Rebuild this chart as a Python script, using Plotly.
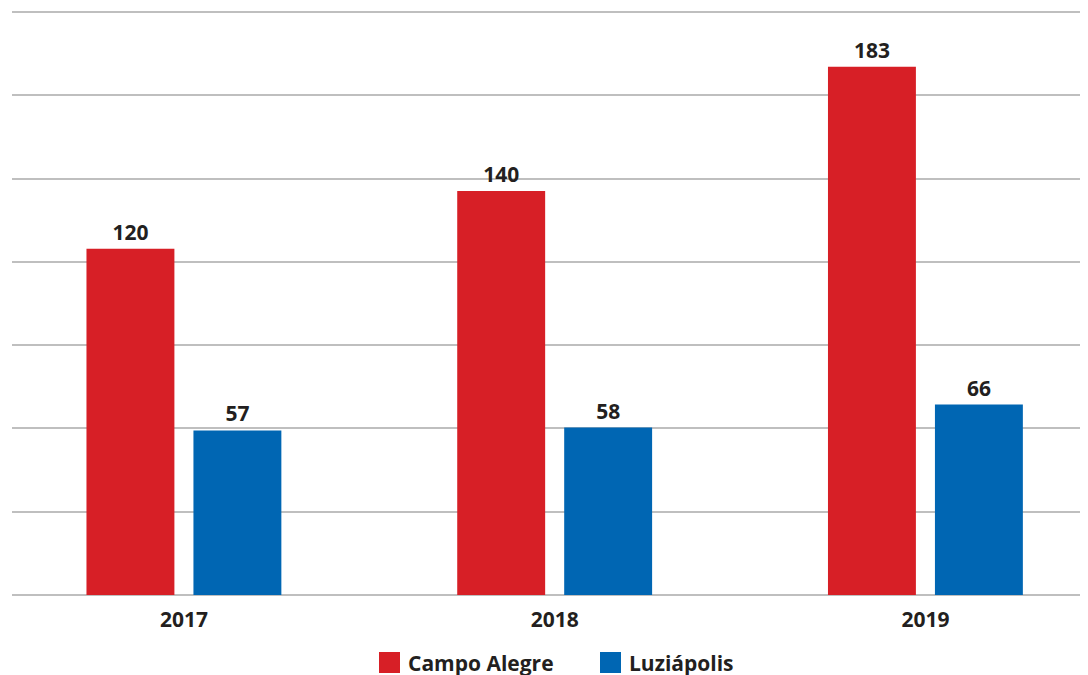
import plotly.graph_objects as go

years = ["2017", "2018", "2019"]
campo_alegre = [120, 140, 183]
luziapolis = [57, 58, 66]
series_names = ["Campo Alegre", "Luziápolis"]
colors = ["#D71F26", "#0066B3"]

TXT = "#231F20"
FONT = "Open Sans"

# page body adds an 8px offset; figure coordinates are viewport - 8
W, H = 1088, 672
L, T = 4, 2
PLOT_BOTTOM = 587
B = H - PLOT_BOTTOM
PW = W - L
PH = H - T - B
Y_MAX = 202 * PH / 583  # keeps top gridline just inside the plot area
CAT_PX = 370.75          # pixels per category step
X0 = -0.4637
X1 = X0 + PW / CAT_PX

fig = go.Figure()
for name, vals, col in zip(series_names, [campo_alegre, luziapolis], colors):
    fig.add_trace(go.Bar(
        x=years, y=vals, name=name, marker=dict(color=col, line=dict(width=0)),
        text=vals, textposition="outside", cliponaxis=False,
        textfont=dict(family=FONT, size=21, color=TXT, weight=700),
        showlegend=False,
    ))

# legend built from series names/colors (paper coordinates)
def px_x(v):
    return (v - 8 - L) / PW

def px_y(v):
    return (PLOT_BOTTOM - (v - 8)) / PH

leg_x = [px_x(379), px_x(600)]
leg_w = 21 / PW
y_top = px_y(652)
y_bot = px_y(673)
for name, col, lx in zip(series_names, colors, leg_x):
    fig.add_shape(type="rect", xref="paper", yref="paper", x0=lx, x1=lx + leg_w,
                  y0=y_bot, y1=y_top, fillcolor=col, line=dict(width=0))
    fig.add_annotation(xref="paper", yref="paper", x=lx + leg_w + 6 / PW,
                       y=(y_top + y_bot) / 2, text=name, showarrow=False,
                       xanchor="left", yanchor="middle",
                       font=dict(family=FONT, size=21, color=TXT, weight=700))

fig.update_layout(
    width=W, height=H,
    margin=dict(l=L, r=0, t=T, b=B, pad=0),
    paper_bgcolor="white", plot_bgcolor="white",
    barmode="group", bargap=0.423, bargroupgap=0.178,
    font=dict(family=FONT, color=TXT),
    xaxis=dict(type="category", range=[X0, X1], showgrid=False,
               showline=False, ticks="", zeroline=False, ticklabelstandoff=10,
               tickfont=dict(family=FONT, size=21, color=TXT, weight=700)),
    yaxis=dict(range=[0, Y_MAX], dtick=202 / 7, tick0=0, showticklabels=False,
               showgrid=True, gridcolor="#BFBFBF", gridwidth=1.5,
               zeroline=True, zerolinecolor="#BFBFBF", zerolinewidth=1.5,
               showline=False, ticks=""),
)

fig.write_html("out.html")
